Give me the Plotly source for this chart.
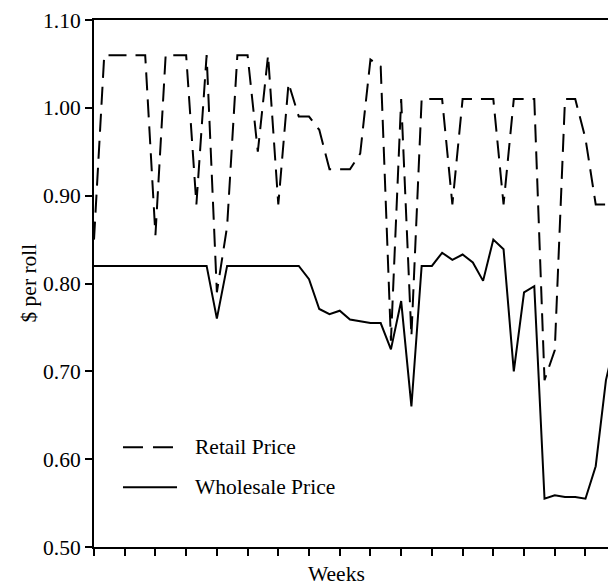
import plotly.graph_objects as go

weeks = list(range(52))

retail_price = [
    0.85, 1.06, 1.06, 1.06, 1.06, 1.06, 0.855, 1.06, 1.06, 1.06,
    0.89, 1.06, 0.79, 0.865, 1.06, 1.06, 0.95, 1.06, 0.89, 1.028,
    0.99, 0.99, 0.975, 0.93, 0.93, 0.93, 0.948, 1.055, 1.047, 0.735,
    1.01, 0.74, 1.01, 1.01, 1.01, 0.89, 1.01, 1.01, 1.01, 1.01,
    0.89, 1.01, 1.01, 1.01, 0.69, 0.724, 1.01, 1.01, 0.965, 0.89,
    0.89, 0.89,
]

wholesale_price = [
    0.82, 0.82, 0.82, 0.82, 0.82, 0.82, 0.82, 0.82, 0.82, 0.82,
    0.82, 0.82, 0.76, 0.82, 0.82, 0.82, 0.82, 0.82, 0.82, 0.82,
    0.82, 0.805, 0.771, 0.765, 0.769, 0.759, 0.757, 0.755, 0.755, 0.725,
    0.78, 0.66, 0.82, 0.82, 0.835, 0.827, 0.833, 0.824, 0.803, 0.85,
    0.839, 0.70, 0.79, 0.797, 0.555, 0.559, 0.557, 0.557, 0.555, 0.592,
    0.69, 0.74,
]

y_ticks = [0.50, 0.60, 0.70, 0.80, 0.90, 1.00, 1.10]
x_ticks = list(range(0, 51, 3))

FONT = "Liberation Serif, Times New Roman, serif"
FS = 21.5

fig = go.Figure()
fig.add_trace(go.Scatter(
    x=weeks, y=retail_price, mode="lines", name="Retail Price",
    line=dict(color="black", width=2, dash="18px,9px"), showlegend=False,
))
fig.add_trace(go.Scatter(
    x=weeks, y=wholesale_price, mode="lines", name="Wholesale Price",
    line=dict(color="black", width=2), showlegend=False,
))

# custom legend (paper coords)
fig.add_shape(type="line", xref="paper", yref="paper",
              x0=0.0564, x1=0.1576, y0=0.1894, y1=0.1894,
              line=dict(color="black", width=2, dash="20px,10px"))
fig.add_shape(type="line", xref="paper", yref="paper",
              x0=0.0564, x1=0.1615, y0=0.1135, y1=0.1135,
              line=dict(color="black", width=2))
fig.add_annotation(text="Retail Price", xref="paper", yref="paper",
                   x=0.1926, y=0.1894, xanchor="left", yanchor="middle",
                   showarrow=False, font=dict(size=FS, color="black", family=FONT))
fig.add_annotation(text="Wholesale Price", xref="paper", yref="paper",
                   x=0.1926, y=0.1135, xanchor="left", yanchor="middle",
                   showarrow=False, font=dict(size=FS, color="black", family=FONT))

# axis titles
fig.add_annotation(text="Weeks", xref="paper", yref="paper",
                   x=0.471, y=-0.052, xanchor="center", yanchor="middle",
                   showarrow=False, font=dict(size=FS, color="black", family=FONT))
fig.add_annotation(text="$ per roll", xref="paper", yref="paper",
                   x=-0.1284, y=0.5, xanchor="center", yanchor="middle",
                   textangle=-90, showarrow=False,
                   font=dict(size=FS, color="black", family=FONT))

fig.update_layout(
    width=608, height=585,
    margin=dict(l=94, r=0, t=20, b=38, pad=0),
    plot_bgcolor="white", paper_bgcolor="white",
    font=dict(family=FONT, size=FS, color="black"),
    xaxis=dict(
        range=[0, 50.2], tickvals=x_ticks, showticklabels=False,
        ticks="outside", ticklen=7, tickwidth=2, tickcolor="black",
        showline=True, linecolor="black", linewidth=2, mirror=True,
        showgrid=False, zeroline=False,
    ),
    yaxis=dict(
        range=[0.5, 1.1], tickvals=y_ticks,
        ticktext=[f"{v:.2f}" for v in y_ticks],
        ticks="outside", ticklen=7, tickwidth=2, tickcolor="black",
        showline=True, linecolor="black", linewidth=2,
        showgrid=False, zeroline=False,
        tickfont=dict(size=FS, family=FONT, color="black"),
    ),
)

fig.write_html(
    "out.html",
    config={"displayModeBar": False},
    post_script="document.body.style.margin='0';document.body.style.overflow='hidden';",
)
